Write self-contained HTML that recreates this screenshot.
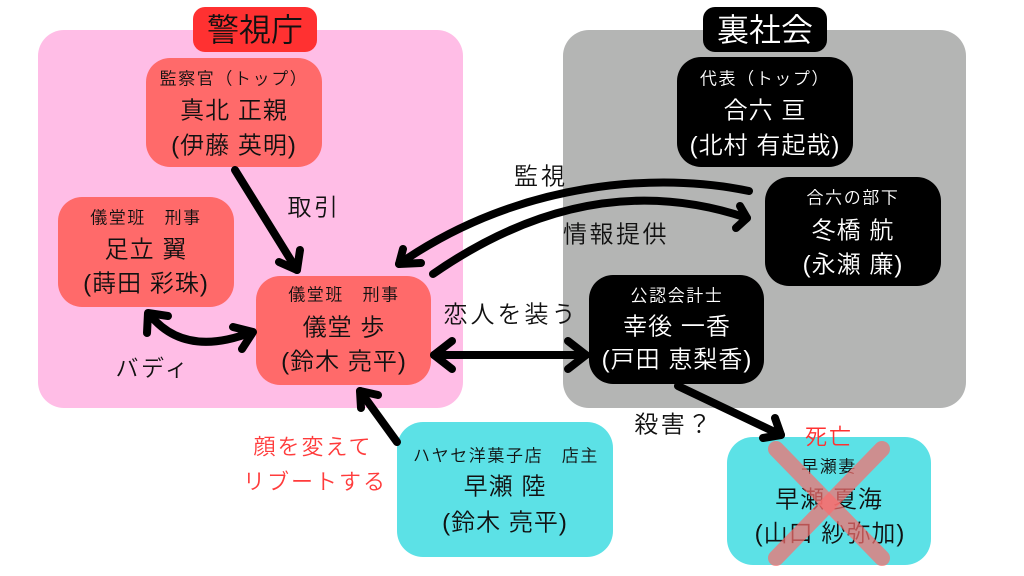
<!DOCTYPE html>
<html>
<head>
<meta charset="utf-8">
<style>
html,body{margin:0;padding:0;background:#fff;}
svg{display:block;}
text{font-family:"Liberation Sans","Noto Sans CJK JP",sans-serif;dominant-baseline:central;text-anchor:middle;}
.sub{font-size:17px;letter-spacing:1.6px;font-weight:350;}
.nm{font-size:24px;letter-spacing:1px;font-weight:350;}
.lb{font-size:24px;letter-spacing:2.5px;fill:#111;font-weight:350;}
.ar{fill:none;stroke:#000;stroke-width:8;stroke-linecap:round;stroke-linejoin:round;}
</style>
</head>
<body>
<svg width="1024" height="576" viewBox="0 0 1024 576" xmlns="http://www.w3.org/2000/svg">
  <rect x="0" y="0" width="1024" height="576" fill="#fff"/>
  <!-- regions -->
  <rect x="38" y="30" width="425" height="378" rx="26" fill="#ffbde6"/>
  <rect x="563" y="30" width="403" height="378" rx="26" fill="#b4b5b4"/>

  <!-- titles -->
  <rect x="193" y="7" width="124" height="45" rx="12" fill="#ff3131"/>
  <text x="255" y="30" style="font-size:32px;font-weight:350;" fill="#111">警視庁</text>
  <rect x="703" y="7" width="124" height="45" rx="12" fill="#000"/>
  <text x="765" y="30" style="font-size:32px;font-weight:350;" fill="#fff">裏社会</text>

  <!-- 監察官 -->
  <rect x="146" y="58" width="176" height="109" rx="24" fill="#ff6a6a"/>
  <text class="sub" x="234" y="79" fill="#111">監察官（トップ）</text>
  <text class="nm" x="234" y="111" fill="#111">真北 正親</text>
  <text class="nm" x="234" y="146" fill="#111">(伊藤 英明)</text>

  <!-- 代表 -->
  <rect x="677" y="57" width="176" height="110" rx="24" fill="#000"/>
  <text class="sub" x="765" y="79" fill="#fff">代表（トップ）</text>
  <text class="nm" x="765" y="111" fill="#fff">合六 亘</text>
  <text class="nm" x="765" y="146" fill="#fff">(北村 有起哉)</text>

  <!-- 冬橋 -->
  <rect x="765" y="177" width="176" height="109" rx="24" fill="#000"/>
  <text class="sub" x="853" y="198" fill="#fff">合六の部下</text>
  <text class="nm" x="853" y="231" fill="#fff">冬橋 航</text>
  <text class="nm" x="853" y="265" fill="#fff">(永瀬 廉)</text>

  <!-- 足立 -->
  <rect x="58" y="197" width="176" height="110" rx="24" fill="#ff6a6a"/>
  <text class="sub" x="146" y="218" fill="#111">儀堂班　刑事</text>
  <text class="nm" x="146" y="250" fill="#111">足立 翼</text>
  <text class="nm" x="146" y="284" fill="#111">(蒔田 彩珠)</text>

  <!-- 儀堂 -->
  <rect x="256" y="276" width="175" height="109" rx="24" fill="#ff6a6a"/>
  <text class="sub" x="344" y="295" fill="#111">儀堂班　刑事</text>
  <text class="nm" x="344" y="328" fill="#111">儀堂 歩</text>
  <text class="nm" x="344" y="362" fill="#111">(鈴木 亮平)</text>

  <!-- 公認会計士 -->
  <rect x="589" y="275" width="175" height="109" rx="24" fill="#000"/>
  <text class="sub" x="677" y="296" fill="#fff">公認会計士</text>
  <text class="nm" x="677" y="327" fill="#fff">幸後 一香</text>
  <text class="nm" x="677" y="360" fill="#fff">(戸田 恵梨香)</text>

  <!-- ハヤセ -->
  <rect x="397" y="422" width="216" height="135" rx="26" fill="#5ce1e6"/>
  <text class="sub" x="506" y="456" fill="#111">ハヤセ洋菓子店　店主</text>
  <text class="nm" x="505" y="487" fill="#111">早瀬 陸</text>
  <text class="nm" x="505" y="523" fill="#111">(鈴木 亮平)</text>

  <!-- 夏海 -->
  <rect x="727" y="437" width="204" height="128" rx="26" fill="#5ce1e6"/>
  <text class="sub" x="829" y="467" fill="#111">早瀬妻</text>
  <text class="nm" x="829" y="500" fill="#111">早瀬 夏海</text>
  <text class="nm" x="830" y="534" fill="#111">(山口 紗弥加)</text>
  <g stroke="rgb(250,110,110)" stroke-opacity="0.72" stroke-width="16" stroke-linecap="round">
    <line x1="776" y1="449" x2="882" y2="558"/>
    <line x1="882" y1="449" x2="776" y2="558"/>
  </g>
  <text x="829" y="437" style="font-size:22px;letter-spacing:2px;font-weight:350;" fill="#ff3131">死亡</text>

  <!-- labels -->
  <text class="lb" x="314" y="208">取引</text>
  <text class="lb" x="153" y="368" style="font-size:23px;">バディ</text>
  <text class="lb" x="511" y="315" style="letter-spacing:3px;">恋人を装う</text>
  <text class="lb" x="541" y="177" style="letter-spacing:3px;">監視</text>
  <text class="lb" x="616" y="235">情報提供</text>
  <text class="lb" x="674" y="425">殺害？</text>
  <text x="313" y="447" style="font-size:22px;letter-spacing:2px;font-weight:350;" fill="#ff3b3b">顔を変えて</text>
  <text x="315" y="482" style="font-size:22px;letter-spacing:2px;font-weight:350;" fill="#ff3b3b">リブートする</text>

  <!-- arrows -->
  <!-- 取引 -->
  <path class="ar" d="M235 170 L297 270"/>
  <path class="ar" d="M279 262 L297 270 L300 250"/>
  <!-- バディ -->
  <path class="ar" d="M150 315 Q185 358 252 332"/>
  <path class="ar" d="M147 333 L148 313 L168 316"/>
  <path class="ar" d="M233 327 L253 332 L242 349"/>
  <!-- 恋人を装う -->
  <path class="ar" d="M434 355 L586 355"/>
  <path class="ar" d="M452 341 L434 355 L452 369"/>
  <path class="ar" d="M568 341 L586 355 L568 369"/>
  <!-- 監視 -->
  <path class="ar" d="M749 191 C660 172 520 180 399 264"/>
  <path class="ar" d="M403 249 L399 264 L421 263"/>
  <!-- 情報提供 -->
  <path class="ar" d="M433 274 Q590 165 747 218"/>
  <path class="ar" d="M740 206 L747 218 L736 228"/>
  <!-- 殺害 -->
  <path class="ar" d="M678 386 L781 435"/>
  <path class="ar" d="M775 418 L781 435 L763 438"/>
  <!-- リブート -->
  <path class="ar" d="M397 442 L360 391"/>
  <path class="ar" d="M361 408 L360 391 L378 395"/>
</svg>
</body>
</html>
